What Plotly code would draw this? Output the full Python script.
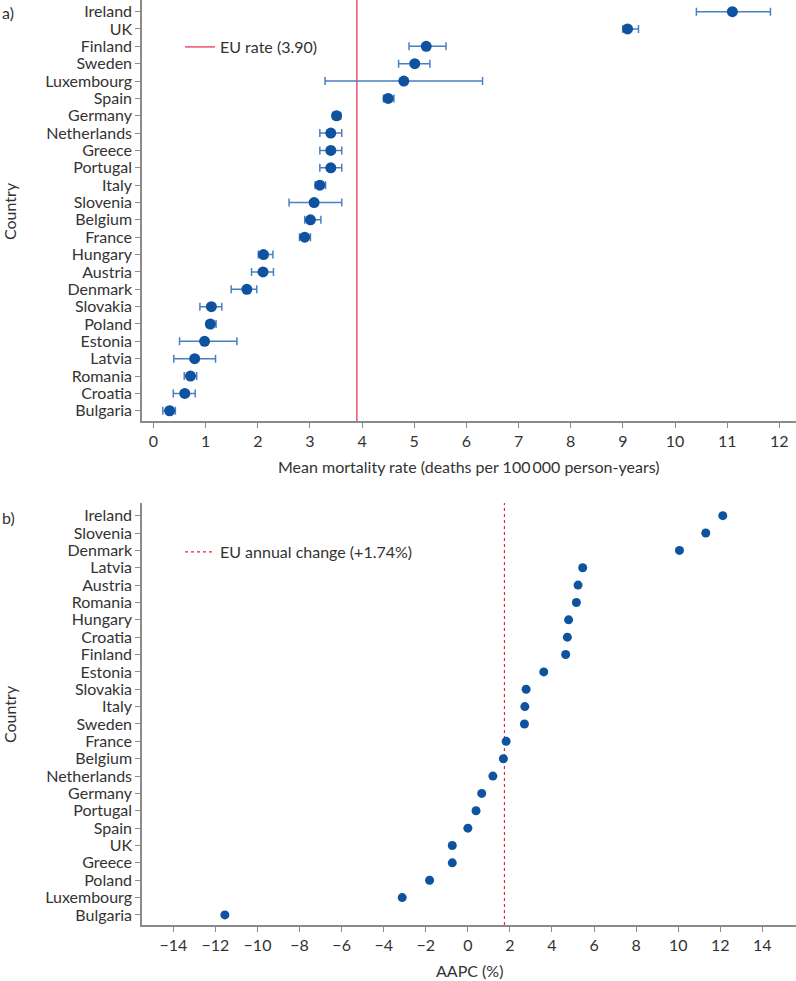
import plotly.graph_objects as go
from plotly.subplots import make_subplots

# ---- Panel a) data: mean mortality rate with 95% CI ----
countries_a = ["Ireland", "UK", "Finland", "Sweden", "Luxembourg", "Spain", "Germany",
               "Netherlands", "Greece", "Portugal", "Italy", "Slovenia", "Belgium", "France",
               "Hungary", "Austria", "Denmark", "Slovakia", "Poland", "Estonia", "Latvia",
               "Romania", "Croatia", "Bulgaria"]
rate_mean = [11.10, 9.09, 5.23, 5.01, 4.80, 4.50, 3.51, 3.40, 3.40, 3.40, 3.19, 3.08, 3.01,
             2.90, 2.11, 2.10, 1.79, 1.11, 1.09, 0.98, 0.79, 0.71, 0.60, 0.31]
rate_low = [10.41, 9.00, 4.90, 4.70, 3.29, 4.41, 3.44, 3.19, 3.19, 3.19, 3.10, 2.60, 2.90,
            2.80, 2.01, 1.88, 1.49, 0.89, 1.02, 0.50, 0.39, 0.59, 0.38, 0.18]
rate_high = [11.83, 9.30, 5.61, 5.30, 6.31, 4.61, 3.59, 3.61, 3.61, 3.61, 3.30, 3.61, 3.21,
             3.01, 2.29, 2.30, 1.98, 1.31, 1.20, 1.60, 1.19, 0.83, 0.80, 0.42]
eu_rate = 3.90
x_ticks_a = list(range(0, 13))

# ---- Panel b) data: AAPC ----
countries_b = ["Ireland", "Slovenia", "Denmark", "Latvia", "Austria", "Romania", "Hungary",
               "Croatia", "Finland", "Estonia", "Slovakia", "Italy", "Sweden", "France",
               "Belgium", "Netherlands", "Germany", "Portugal", "Spain", "UK", "Greece",
               "Poland", "Luxembourg", "Bulgaria"]
aapc = [12.12, 11.31, 10.06, 5.46, 5.24, 5.16, 4.79, 4.73, 4.65, 3.61, 2.77, 2.71, 2.69,
        1.82, 1.69, 1.19, 0.66, 0.39, 0.0, -0.74, -0.74, -1.82, -3.12, -11.55]
eu_aapc = 1.74
x_ticks_b = list(range(-14, 15, 2))
x_ticklabels_b = [("\u2212" + str(-v)) if v < 0 else str(v) for v in x_ticks_b]

FONT = "Lato, sans-serif"
TXT = "#333333"
DOT = "#0f52a0"
ERR = "#4a7fc2"
AXC = "#8a8a8a"

H = 981
ML, MR, MT, MB = 142, 0, 0, 56
PH = H - MT - MB
PW = 796 - ML - MR

def fy(px):
    return (PH - (px - MT)) / PH

fig = make_subplots(rows=2, cols=1)

err_plus = [h - m for h, m in zip(rate_high, rate_mean)]
err_minus = [m - l for m, l in zip(rate_mean, rate_low)]

fig.add_trace(go.Scatter(
    x=rate_mean, y=countries_a, mode="markers",
    marker=dict(color=DOT, size=11),
    error_x=dict(type="data", array=err_plus, arrayminus=err_minus,
                 color=ERR, thickness=1.5, width=4),
    showlegend=False, hoverinfo="x+y"), row=1, col=1)

fig.add_trace(go.Scatter(
    x=aapc, y=countries_b, mode="markers",
    marker=dict(color=DOT, size=9),
    showlegend=False, hoverinfo="x+y"), row=2, col=1)

fig.add_shape(type="line", x0=eu_rate, x1=eu_rate, xref="x", y0=0, y1=1, yref="y domain",
              line=dict(color="#e5546f", width=1.5), showlegend=True, layer="below",
              name="EU rate (%.2f)" % eu_rate, legend="legend")
fig.add_shape(type="line", x0=eu_aapc, x1=eu_aapc, xref="x2", y0=0, y1=1, yref="y2 domain",
              line=dict(color="#e0283c", width=1.2, dash="dot"), showlegend=True, layer="below",
              name="EU annual change (+%.2f%%)" % eu_aapc, legend="legend2")

axis_common = dict(showline=True, linecolor=AXC, linewidth=1.5, ticks="outside",
                   ticklen=5, tickcolor=AXC, tickwidth=1.2, showgrid=False, zeroline=False,
                   tickfont=dict(family=FONT, size=16, color=TXT))

fig.update_xaxes(**axis_common)
fig.update_yaxes(**axis_common)

fig.update_layout(
    xaxis=dict(domain=[0, 1], range=[-0.22, 12.32], tickvals=x_ticks_a, anchor="y"),
    yaxis=dict(domain=[fy(421), fy(0)], type="category", categoryarray=countries_a,
               tickmode="array", tickvals=countries_a,
               range=[23.59, -0.67], anchor="x"),
    xaxis2=dict(domain=[0, 1], range=[-15.49, 15.6], tickvals=x_ticks_b,
                ticktext=x_ticklabels_b, anchor="y2"),
    yaxis2=dict(domain=[fy(925), fy(503)], type="category", categoryarray=countries_b,
                tickmode="array", tickvals=countries_b,
                range=[23.58, -0.73], anchor="x2"),
)

leg_common = dict(font=dict(family=FONT, size=16, color=TXT), bgcolor="rgba(0,0,0,0)",
                  xanchor="left", yanchor="middle", borderwidth=0)
fig.update_layout(
    legend=dict(x=(180 - ML) / PW, y=fy(47), **leg_common),
    legend2=dict(x=(180 - ML) / PW, y=fy(552), **leg_common),
)

ann = []
ann.append(dict(text="a)", x=-ML / PW, y=fy(13), xref="paper", yref="paper",
                xanchor="left", yanchor="middle", showarrow=False,
                font=dict(family=FONT, size=16, color=TXT)))
ann.append(dict(text="b)", x=-ML / PW, y=fy(517), xref="paper", yref="paper",
                xanchor="left", yanchor="middle", showarrow=False,
                font=dict(family=FONT, size=16, color=TXT)))
ann.append(dict(text="Country", x=(9 - ML) / PW, y=fy(211), xref="paper", yref="paper",
                xanchor="center", yanchor="middle", textangle=-90, showarrow=False,
                font=dict(family=FONT, size=16, color=TXT)))
ann.append(dict(text="Country", x=(9 - ML) / PW, y=fy(714), xref="paper", yref="paper",
                xanchor="center", yanchor="middle", textangle=-90, showarrow=False,
                font=dict(family=FONT, size=16, color=TXT)))
ann.append(dict(text="Mean mortality rate (deaths per 100\u2009000 person-years)",
                x=0.5, y=fy(467), xref="paper", yref="paper",
                xanchor="center", yanchor="middle", showarrow=False,
                font=dict(family=FONT, size=16, color=TXT)))
ann.append(dict(text="AAPC (%)", x=0.5, y=fy(970), xref="paper", yref="paper",
                xanchor="center", yanchor="middle", showarrow=False,
                font=dict(family=FONT, size=16, color=TXT)))

fig.update_layout(
    width=796, height=H,
    margin=dict(l=ML, r=MR, t=MT, b=MB, autoexpand=False),
    paper_bgcolor="white", plot_bgcolor="white",
    font=dict(family=FONT, size=16, color=TXT),
    annotations=ann,
)

fig.write_html("out.html", config={"displayModeBar": False},
               post_script="document.body.style.margin='0';document.body.style.overflow='hidden';")
